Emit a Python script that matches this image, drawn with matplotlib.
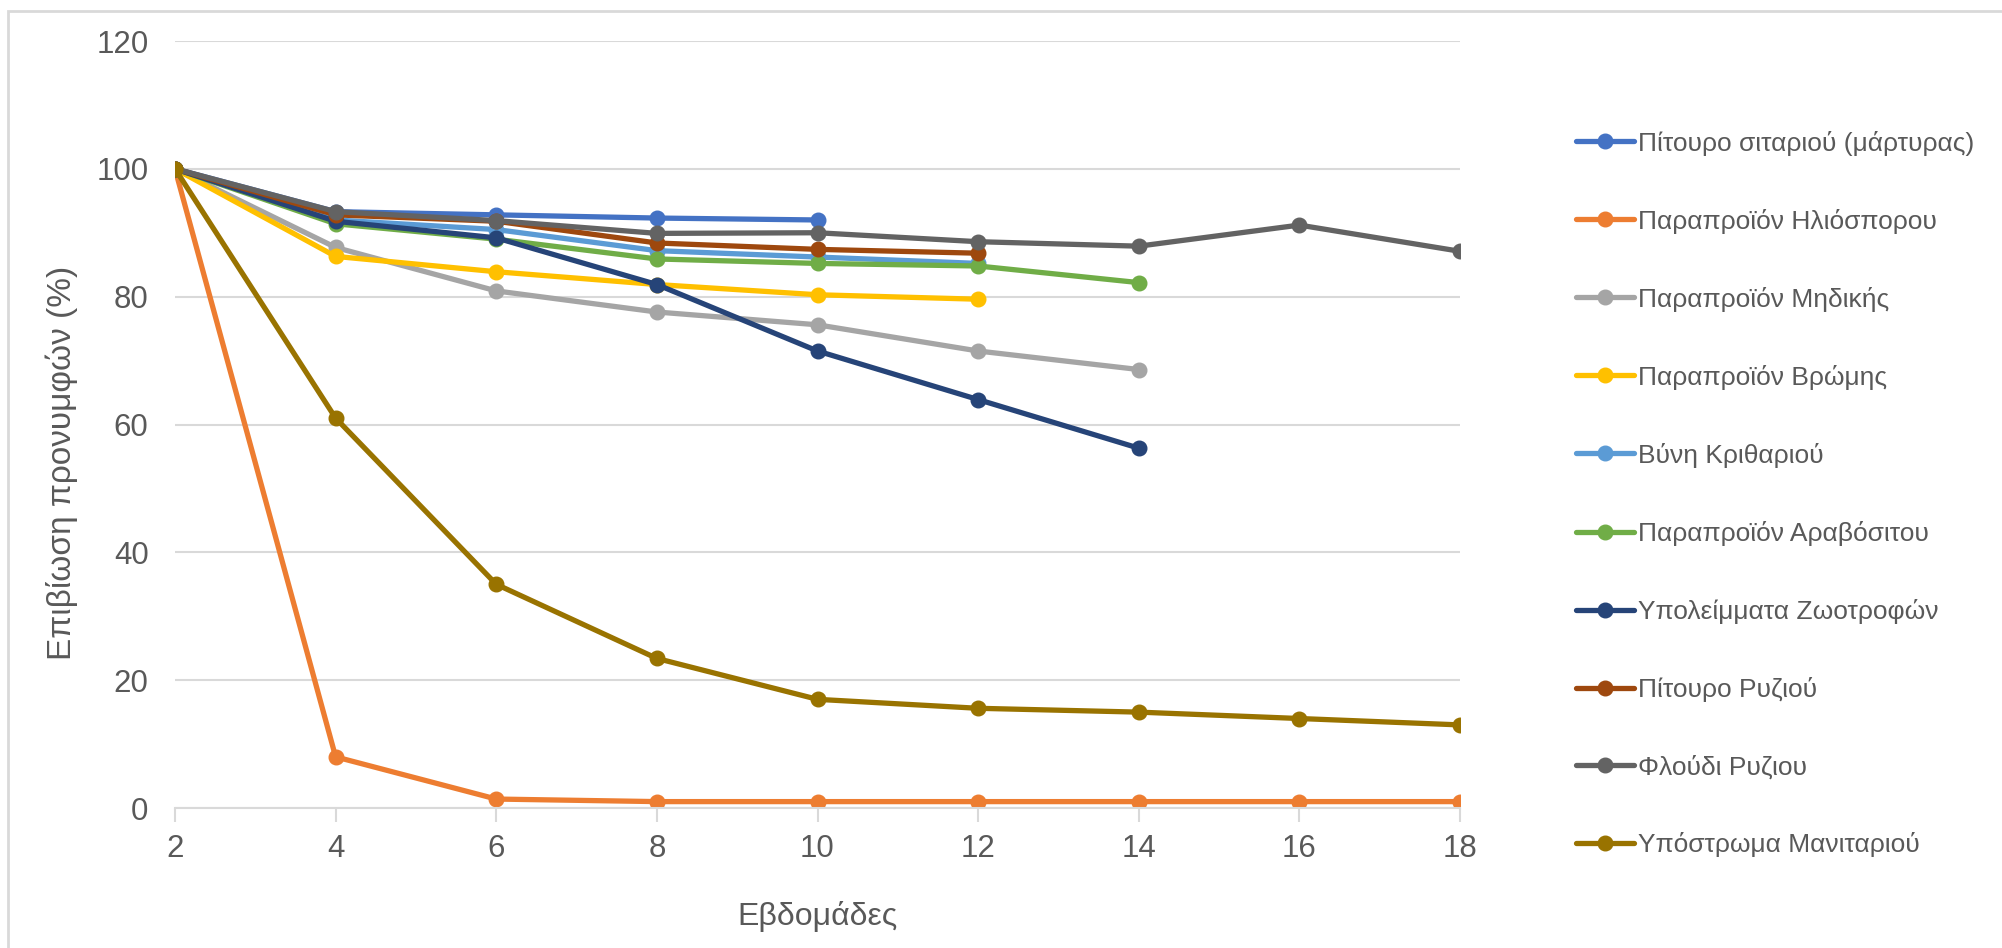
import matplotlib.pyplot as plt
from matplotlib.patches import Rectangle

# εβδομάδες μέτρησης
weeks = [2, 4, 6, 8, 10, 12, 14, 16, 18]

# επιβίωση προνυμφών (%) ανά υπόστρωμα
pitouro_sitariou = [100, 93.3, 92.8, 92.3, 92.0]
ilios = [100, 8.0, 1.4, 1.0, 1.0, 1.0, 1.0, 1.0, 1.0]
midiki = [100, 87.7, 80.9, 77.6, 75.6, 71.5, 68.6]
vromi = [100, 86.3, 83.9, 81.9, 80.3, 79.6]
vyni = [100, 92.0, 90.5, 87.2, 86.2, 85.2]
aravositos = [100, 91.4, 89.0, 85.9, 85.2, 84.8, 82.2]
zootrofes = [100, 91.8, 89.2, 81.9, 71.5, 63.9, 56.3]
pitouro_ryziou = [100, 92.8, 91.8, 88.4, 87.4, 86.8]
floudi_ryziou = [100, 93.3, 91.9, 89.9, 90.0, 88.6, 87.9, 91.2, 87.1]
manitari = [100, 61.0, 35.0, 23.4, 17.0, 15.6, 15.0, 14.0, 13.0]

labels = [
    'Πίτουρο σιταριού (μάρτυρας)',
    'Παραπροϊόν Ηλιόσπορου',
    'Παραπροϊόν Μηδικής',
    'Παραπροϊόν Βρώμης',
    'Βύνη Κριθαριού',
    'Παραπροϊόν Αραβόσιτου',
    'Υπολείμματα Ζωοτροφών',
    'Πίτουρο Ρυζιού',
    'Φλούδι Ρυζιου',
    'Υπόστρωμα Μανιταριού',
]
series = [pitouro_sitariou, ilios, midiki, vromi, vyni, aravositos,
          zootrofes, pitouro_ryziou, floudi_ryziou, manitari]
colors = ['#4472C4', '#ED7D31', '#A5A5A5', '#FFC000', '#5B9BD5',
          '#70AD47', '#264478', '#9E480E', '#636363', '#997300']

plt.rcParams['font.family'] = ['Liberation Sans', 'DejaVu Sans']
text_col = '#595959'
grid_col = '#D9D9D9'

fig = plt.figure(figsize=(20.02, 9.48), dpi=100)
ax = fig.add_axes([175 / 2002, 1 - 808 / 948, (1460 - 175) / 2002, (808 - 41) / 948])

# πλαίσιο γραφήματος
fig.patches.append(Rectangle((8 / 2002, -0.1), 1.2, 1 - 11 / 948 + 0.1,
                             transform=fig.transFigure, fill=False,
                             edgecolor=grid_col, linewidth=2))

for vals, lab, c in zip(series, labels, colors):
    ax.plot(weeks[:len(vals)], vals, color=c, linewidth=3.8, marker='o',
            markersize=10.5, label=lab, solid_capstyle='round')

ax.set_xlim(2, 18)
ax.set_ylim(0, 120)
ax.set_xticks(weeks)
ax.set_yticks(range(0, 121, 20))
ax.yaxis.grid(True, color=grid_col, linewidth=1.5)
ax.set_axisbelow(True)
for s in ['top', 'right', 'left']:
    ax.spines[s].set_visible(False)
ax.spines['bottom'].set_color(grid_col)
ax.spines['bottom'].set_linewidth(1.5)
ax.tick_params(axis='y', length=0, pad=19, labelsize=22.5, labelcolor=text_col)
ax.tick_params(axis='x', length=10, width=1.5, color=grid_col, pad=9,
               labelsize=22.5, labelcolor=text_col)

ax.set_ylabel('Επιβίωση προνυμφών (%)', fontsize=24, color=text_col,
              labelpad=13, y=0.45)
ax.set_xlabel('Εβδομάδες', fontsize=23, color=text_col, labelpad=26)

leg = ax.legend(loc='upper left', bbox_to_anchor=(1.082, 0.897), frameon=False,
                fontsize=19, labelspacing=2.01, handlelength=2.2,
                handletextpad=0.15, borderaxespad=0)
for t in leg.get_texts():
    t.set_color(text_col)

fig.savefig('out.png', dpi=100, facecolor='white')
